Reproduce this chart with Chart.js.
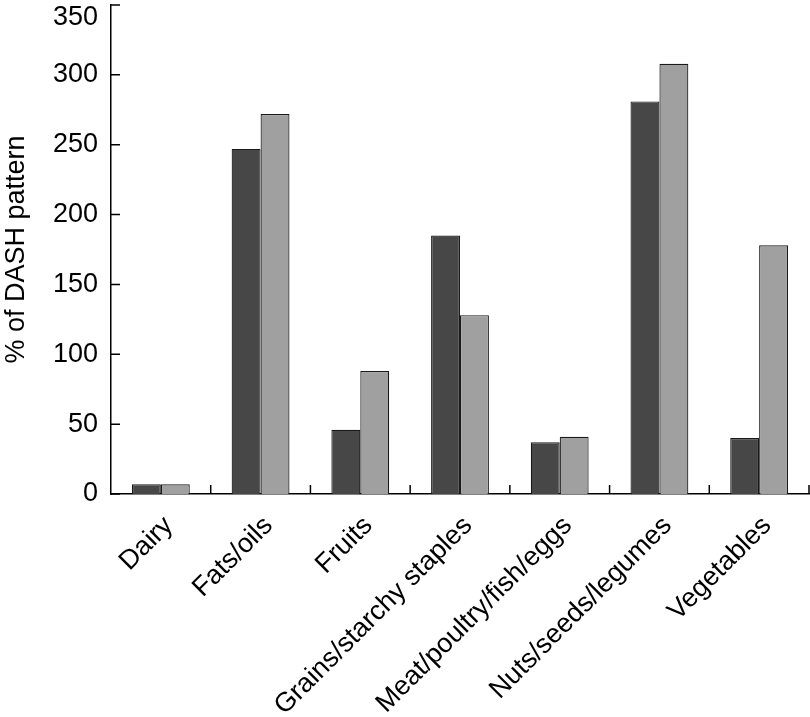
<!DOCTYPE html>
<html>
<head>
<meta charset="utf-8">
<script src="https://cdn.jsdelivr.net/npm/chart.js@4"></script>
<style>
  html, body { margin: 0; padding: 0; background: #fff; }
  #wrap { width: 810px; height: 717px; }
</style>
</head>
<body>
<div id="wrap"><canvas id="dashChart"></canvas></div>
<script>
const categories = ["Dairy", "Fats/oils", "Fruits", "Grains/starchy staples",
  "Meat/poultry/fish/eggs", "Nuts/seeds/legumes", "Vegetables"];
const darkValues = [7, 247, 46, 185, 37, 281, 40];
const lightValues = [7, 272, 88, 128, 41, 308, 178];
const yTicks = [0, 50, 100, 150, 200, 250, 300, 350];

const FONT = "'Liberation Sans', Arial, Helvetica, sans-serif";
const Y_MAX = yTicks[yTicks.length - 1];

// inward tick marks on both axes, plus the top y label pushed inside the canvas
const innerTicks = {
  id: "innerTicks",
  afterDraw(chart) {
    const { ctx, chartArea, scales } = chart;
    ctx.save();
    ctx.strokeStyle = "#000";
    ctx.lineWidth = 1.5;
    ctx.beginPath();
    yTicks.forEach(v => {
      const y = scales.y.getPixelForValue(v);
      ctx.moveTo(chartArea.left, y);
      ctx.lineTo(chartArea.left + 9, y);
    });
    for (let i = 0; i < categories.length; i++) {
      const x = (scales.x.getPixelForValue(i) + scales.x.getPixelForValue(i + 1)) / 2;
      ctx.moveTo(x, chartArea.bottom);
      ctx.lineTo(x, chartArea.bottom - 9);
    }
    ctx.stroke();

    ctx.fillStyle = "#000";
    ctx.font = "27px " + FONT;
    ctx.textAlign = "right";
    ctx.textBaseline = "top";
    ctx.fillText(String(Y_MAX), chartArea.left - 13, scales.y.getPixelForValue(Y_MAX) - 1);
    ctx.restore();
  }
};

new Chart(document.getElementById("dashChart"), {
  type: "bar",
  data: {
    labels: categories,
    datasets: [
      {
        label: "Series A",
        data: darkValues,
        backgroundColor: "#474747",
        borderColor: "#1a1a1a",
        borderWidth: 1.2
      },
      {
        label: "Series B",
        data: lightValues,
        backgroundColor: "#a0a0a0",
        borderColor: "#1a1a1a",
        borderWidth: 1.2
      }
    ]
  },
  options: {
    responsive: true,
    maintainAspectRatio: false,
    animation: false,
    layout: { padding: { top: 5, right: 1, left: 0, bottom: 0 } },
    datasets: {
      bar: { categoryPercentage: 0.58, barPercentage: 1.0 }
    },
    plugins: {
      legend: { display: false },
      tooltip: { enabled: false }
    },
    scales: {
      x: {
        grid: { display: false, drawTicks: false },
        border: { color: "#000", width: 1.5 },
        ticks: {
          color: "#000",
          font: { family: FONT, size: 27 },
          minRotation: 45,
          maxRotation: 45,
          padding: 16,
          labelOffset: 8,
          autoSkip: false
        },
        afterFit(scale) { scale.height = 223; }
      },
      y: {
        min: 0,
        max: Y_MAX,
        grid: { display: false, drawTicks: false },
        border: { color: "#000", width: 1.5 },
        afterBuildTicks(scale) { scale.ticks = yTicks.map(v => ({ value: v })); },
        ticks: {
          color: "#000",
          font: { family: FONT, size: 27 },
          padding: 13,
          callback: v => (v === Y_MAX ? "" : v)
        },
        title: {
          display: true,
          text: "% of DASH pattern",
          color: "#000",
          font: { family: FONT, size: 27 },
          padding: { top: 0, bottom: 4 }
        },
        afterFit(scale) {
          scale.width = 111;
          scale.paddingTop = 0; // let the 350 tick sit at the very top
        }
      }
    }
  },
  plugins: [innerTicks]
});
</script>
</body>
</html>
